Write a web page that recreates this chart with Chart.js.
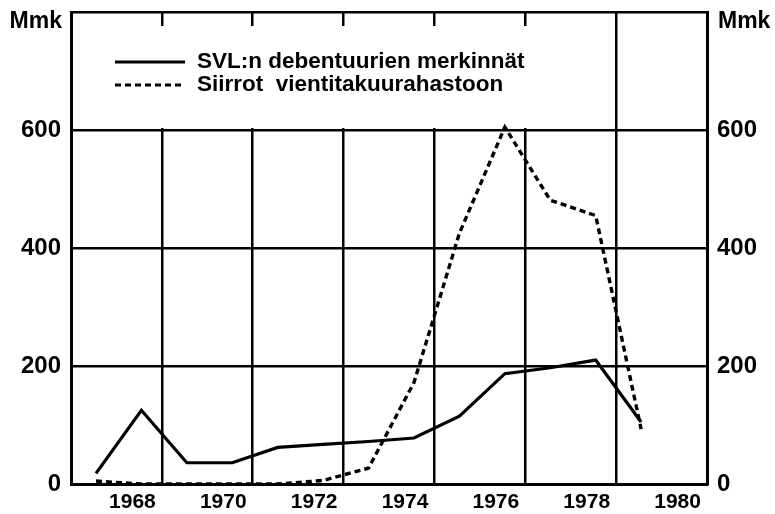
<!DOCTYPE html>
<html>
<head>
<meta charset="utf-8">
<script src="https://cdn.jsdelivr.net/npm/chart.js@4.4.1/dist/chart.umd.min.js"></script>
<style>
html,body{margin:0;padding:0;background:#fff;}
#wrap{width:775px;height:514px;position:relative;}
</style>
</head>
<body>
<div id="wrap"><canvas id="c" width="775" height="514"></canvas></div>
<script>
// ---- data ----
const years = [1967,1968,1969,1970,1971,1972,1973,1974,1975,1976,1977,1978,1979];
const svlValues = [18,125,36,36,62,67,72,78,115,187,197,210,105];
const siirrotValues = [5,0,0,0,0,6,27,172,425,605,481,455,93];
const yearTicks = [1968,1970,1972,1974,1976,1978,1980];
const valueTicks = [0,200,400,600,800];
const unitLabel = 'Mmk';
const seriesNames = ['SVL:n debentuurien merkinnät', 'Siirrot  vientitakuurahastoon'];

// ---- layout / style ----
const X_MIN = 1966.45, X_MAX = 1980.45, GRID_SHIFT = 0.45;
const FAMILY = '"Liberation Sans", Arial, sans-serif';
const LEGEND_FONT = 'bold 22.5px ' + FAMILY;
const UNIT_FONT = 'bold 23px ' + FAMILY;
const xFont = {family:FAMILY, size:21, weight:'bold'};
const yFont = {family:FAMILY, size:24, weight:'bold'};

const gridYears = [X_MIN].concat(yearTicks.map(y => y + GRID_SHIFT));

const legendPlugin = {
  id:'customLegend',
  beforeDatasetsDraw(chart){
    const ctx = chart.ctx;
    ctx.save();
    ctx.fillStyle = '#fff';
    ctx.fillRect(80, 26, 480, 102);
    ctx.restore();
  },
  afterDraw(chart){
    const ctx = chart.ctx;
    ctx.save();
    ctx.strokeStyle = '#000';
    ctx.lineWidth = 3;
    ctx.beginPath(); ctx.moveTo(115,62); ctx.lineTo(185,62); ctx.stroke();
    ctx.setLineDash([6,4]);
    ctx.beginPath(); ctx.moveTo(115,85); ctx.lineTo(185,85); ctx.stroke();
    ctx.setLineDash([]);
    ctx.fillStyle = '#000';
    ctx.font = LEGEND_FONT;
    ctx.textBaseline = 'middle';
    ctx.textAlign = 'left';
    ctx.fillText(seriesNames[0], 197, 62);
    ctx.fillText(seriesNames[1], 197, 85);
    ctx.font = UNIT_FONT;
    ctx.textAlign = 'right';
    ctx.fillText(unitLabel, 62, 22);
    ctx.textAlign = 'left';
    ctx.fillText(unitLabel, 718, 22);
    ctx.restore();
  }
};

const toPts = arr => years.map((y,i) => ({x:y, y:arr[i]}));
const fixV = w => s => { s.width = w; s.paddingTop = 0; s.paddingBottom = 0; };

new Chart(document.getElementById('c'), {
  type:'line',
  data:{
    datasets:[
      {label:seriesNames[0], data:toPts(svlValues), borderColor:'#000', borderWidth:3.2,
       pointRadius:0, tension:0, fill:false, xAxisID:'x', yAxisID:'y'},
      {label:seriesNames[1], data:toPts(siirrotValues), borderColor:'#000', borderWidth:3.4,
       borderDash:[6,4], pointRadius:0, tension:0, fill:false, xAxisID:'x', yAxisID:'y'}
    ]
  },
  options:{
    responsive:false,
    animation:false,
    layout:{padding:{top:12,left:0,right:0,bottom:0}},
    plugins:{legend:{display:false}, tooltip:{enabled:false}},
    scales:{
      x:{
        type:'linear', position:'bottom', min:X_MIN, max:X_MAX, weight:0,
        afterBuildTicks: s => { s.ticks = gridYears.map(v => ({value:v})); },
        grid:{color:'#000', lineWidth:2.5, drawTicks:false},
        border:{display:true, color:'#000', width:3},
        ticks:{display:false},
        afterFit: s => { s.height = 0; s.paddingLeft = 0; s.paddingRight = 0; }
      },
      xl:{
        type:'linear', position:'bottom', min:X_MIN, max:X_MAX, weight:1,
        afterBuildTicks: s => { s.ticks = yearTicks.map(v => ({value:v})); },
        grid:{display:false, drawTicks:false},
        border:{display:false},
        ticks:{color:'#000', font:xFont, padding:6, labelOffset:-9, maxRotation:0, autoSkip:false,
               callback: v => String(v)},
        afterFit: s => { s.height = 30; s.paddingLeft = 0; s.paddingRight = 0; }
      },
      y:{
        type:'linear', position:'left', min:0, max:800,
        afterBuildTicks: s => { s.ticks = valueTicks.map(v => ({value:v})); },
        grid:{color:'#000', lineWidth:2.5, drawTicks:false},
        border:{display:true, color:'#000', width:3},
        ticks:{color:'#000', font:yFont, padding:10, callback: v => v === 800 ? '' : String(v)},
        afterFit: fixV(71)
      },
      y2:{
        type:'linear', position:'right', min:0, max:800,
        afterBuildTicks: s => { s.ticks = valueTicks.map(v => ({value:v})); },
        grid:{display:false, drawTicks:false},
        border:{display:true, color:'#000', width:3},
        ticks:{color:'#000', font:yFont, padding:10, callback: v => v === 800 ? '' : String(v)},
        afterFit: fixV(68)
      }
    }
  },
  plugins:[legendPlugin]
});
</script>
</body>
</html>
